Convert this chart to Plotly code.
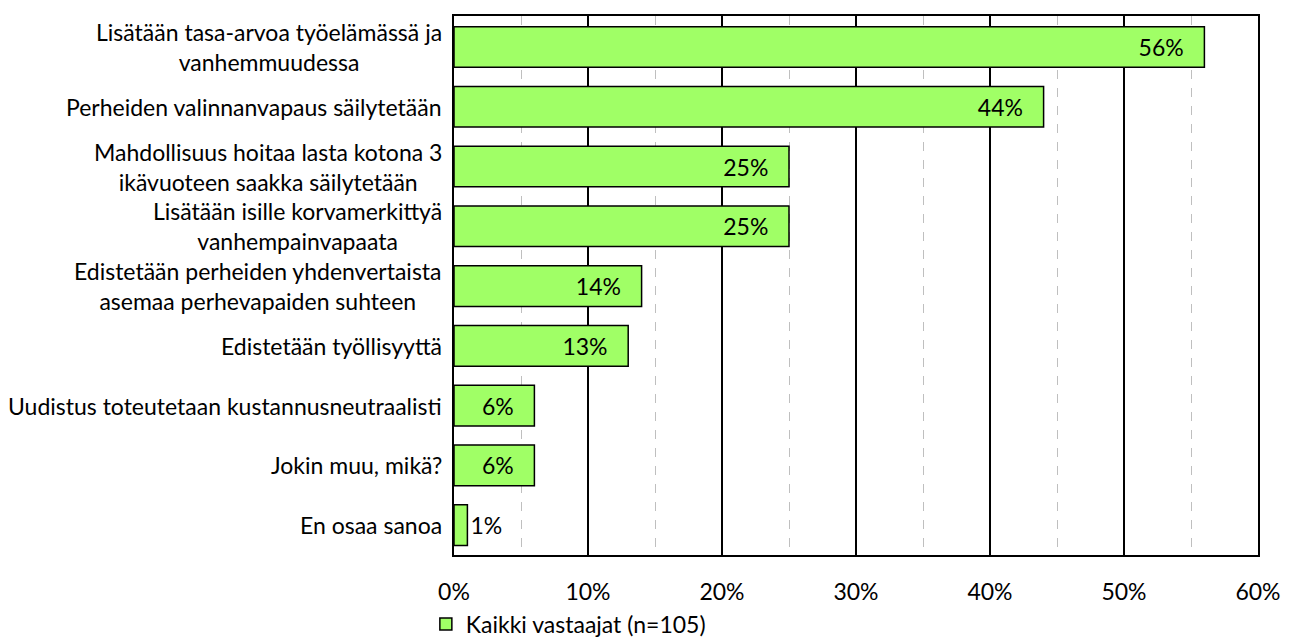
import plotly.graph_objects as go

categories = [
    "Lisätään tasa-arvoa työelämässä ja<br>vanhemmuudessa",
    "Perheiden valinnanvapaus säilytetään",
    "Mahdollisuus hoitaa lasta kotona 3<br>ikävuoteen saakka säilytetään",
    "Lisätään isille korvamerkittyä<br>vanhempainvapaata",
    "Edistetään perheiden yhdenvertaista<br>asemaa perhevapaiden suhteen",
    "Edistetään työllisyyttä",
    "Uudistus toteutetaan kustannusneutraalisti",
    "Jokin muu, mikä?",
    "En osaa sanoa",
]
values = [56, 44, 25, 25, 14, 13, 6, 6, 1]
series_name = "Kaikki vastaajat (n=105)"
tick_vals = [0, 10, 20, 30, 40, 50, 60]
tick_text = ["0%", "10%", "20%", "30%", "40%", "50%", "60%"]

FONT = "Lato"
FS = 23
PAD = "\u00a0\u00a0\u00a0"

fig = go.Figure()
fig.add_trace(go.Bar(
    x=values, y=categories, orientation="h", name=series_name,
    marker=dict(color="#A0FF66", line=dict(color="#000000", width=1.5)),
    width=0.68,
    text=[f"{v}%{PAD}" if v > 3 else f"{v}%" for v in values],
    textposition=["inside" if v > 3 else "outside" for v in values],
    insidetextanchor="end",
    textfont=dict(family=FONT, size=FS, color="#000000"),
    outsidetextfont=dict(family=FONT, size=FS, color="#000000"),
    insidetextfont=dict(family=FONT, size=FS, color="#000000"),
    constraintext="none",
    cliponaxis=False,
    showlegend=True,
))

for c in categories:
    fig.add_annotation(
        x=0, xref="paper", y=c, yref="y", text=c, showarrow=False,
        xanchor="right", align="center", xshift=-10,
        font=dict(family=FONT, size=FS, color="#000000"),
    )

fig.update_layout(
    width=1293, height=641,
    margin=dict(l=446, r=43, t=8, b=94, autoexpand=False),
    paper_bgcolor="#ffffff", plot_bgcolor="#ffffff",
    font=dict(family=FONT, size=FS, color="#000000"),
    bargap=0.3,
    legend=dict(orientation="h", x=-0.035, xanchor="left", y=-0.088, yanchor="top",
                font=dict(family=FONT, size=FS, color="#000000"),
                itemwidth=30, traceorder="normal"),
    xaxis=dict(
        range=[0, 60], tickvals=tick_vals, ticktext=tick_text,
        showgrid=True, gridcolor="#000000", gridwidth=1.5,
        showline=True, linecolor="#000000", linewidth=1.5, mirror=True,
        ticks="", zeroline=False,
        tickfont=dict(family=FONT, size=FS, color="#000000"),
        ticklabelstandoff=16,
        minor=dict(dtick=5, tick0=0, showgrid=True, gridcolor="#BFBFBF",
                   griddash="dash", gridwidth=1.2),
    ),
    yaxis=dict(
        categoryorder="array", categoryarray=categories, autorange="reversed",
        showticklabels=False, ticks="",
        showline=True, linecolor="#000000", linewidth=1.5, mirror=True,
        showgrid=False,
    ),
)

fig.write_html("out.html")
